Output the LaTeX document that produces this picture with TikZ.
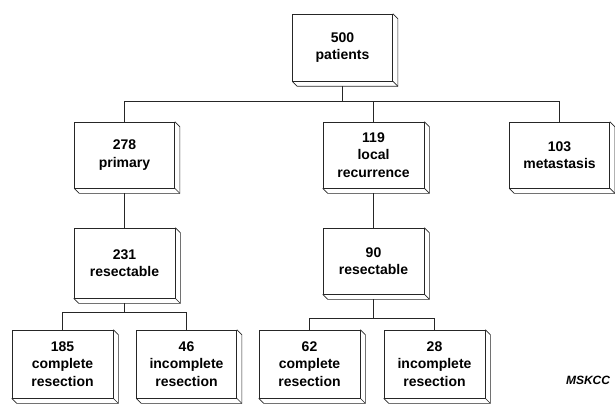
\documentclass[tikz,border=0pt]{standalone}
\usepackage{fontspec}
\setmainfont{Liberation Sans}
\begin{document}
\begin{tikzpicture}[x=1pt,y=-1pt,
  slab/.style={draw=black!85, line width=0.7pt, fill=white, align=center,
    inner sep=0pt, font=\fontsize{14}{17.5}\selectfont\bfseries},
  link/.style={draw=black!85, line width=0.7pt}]
\useasboundingbox (0,0) rectangle (615,406);
\newcommand\extrude[1]{%
  \draw[link] (#1.north east) -- ([shift={(5,5)}]#1.north east)
    -- ([shift={(5,5)}]#1.south east) -- ([shift={(5,5)}]#1.south west)
    -- (#1.south west);
  \draw[link] (#1.south east) -- ([shift={(5,5)}]#1.south east);}
% row 1
\node[slab, minimum width=100, minimum height=67] (p500) at (342.5,47.5) {500\\patients};
% row 2
\node[slab, minimum width=100, minimum height=66] (p278) at (124.5,155) {278\\primary};
\node[slab, minimum width=101, minimum height=66] (p119) at (373.5,155) {119\\local\\recurrence};
\node[slab, minimum width=100, minimum height=66] (p103) at (559.5,155) {103\\metastasis};
% row 3
\node[slab, minimum width=101, minimum height=70] (p231) at (124.5,263) {231\\resectable};
\node[slab, minimum width=101, minimum height=66] (p90) at (373.5,261) {90\\resectable};
% row 4
\node[slab, minimum width=101, minimum height=68] (p185) at (62.5,364) {185\\complete\\resection};
\node[slab, minimum width=100, minimum height=68] (p46) at (186.5,364) {46\\incomplete\\resection};
\node[slab, minimum width=101, minimum height=68] (p62) at (309.5,364) {62\\complete\\resection};
\node[slab, minimum width=101, minimum height=68] (p28) at (434.5,364) {28\\incomplete\\resection};
\foreach \n in {p500,p278,p119,p103,p231,p90,p185,p46,p62,p28}{\extrude{\n}}
% buses
\coordinate (b1) at (342.5,101.5);
\coordinate (b2) at (124.5,312.5);
\coordinate (b3) at (373.5,318.5);
\draw[link] ([shift={(0,5)}]p500.south) -- (b1);
\draw[link] (p278.north) -- (p278.north |- b1) -- (p103.north |- b1) -- (p103.north);
\draw[link] (p119.north) -- (p119.north |- b1);
\draw[link] ([shift={(0,5)}]p278.south) -- (p231.north);
\draw[link] ([shift={(0,5)}]p119.south) -- (p90.north);
\draw[link] ([shift={(0,5)}]p231.south) -- (b2);
\draw[link] (p185.north) -- (p185.north |- b2) -- (p46.north |- b2) -- (p46.north);
\draw[link] ([shift={(0,5)}]p90.south) -- (b3);
\draw[link] (p62.north) -- (p62.north |- b3) -- (p28.north |- b3) -- (p28.north);
\node[font=\fontsize{12}{14}\selectfont\bfseries\itshape] (msk) at (588,380) {MSKCC};
\end{tikzpicture}
\end{document}
